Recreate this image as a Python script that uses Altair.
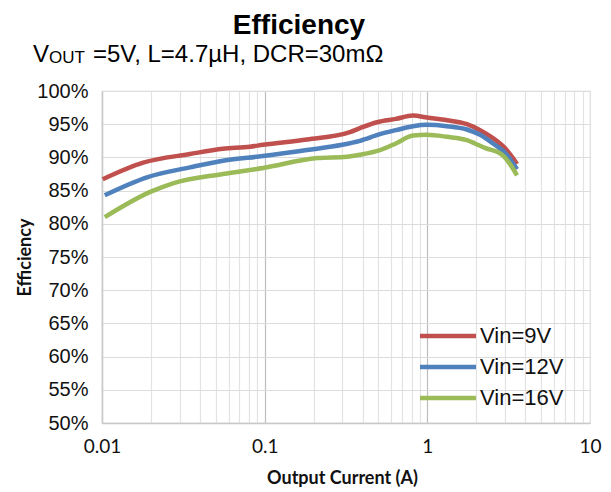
import altair as alt
import pandas as pd

title_text = "Efficiency"
sub_v = "V"
sub_out = "OUT"
sub_rest = "=5V, L=4.7µH, DCR=30mΩ"
x_title = "Output Current (A)"
y_title = "Efficiency"

series_names = ["Vin=9V", "Vin=12V", "Vin=16V"]
series_colors = ["#C0504D", "#4F81BD", "#9BBB59"]

cur_9 = [0.0101, 0.0179, 0.0347, 0.0554, 0.0811, 0.0977, 0.182, 0.334, 0.385, 0.49, 0.64, 0.816, 0.995, 1.32, 1.75, 2.11, 2.53, 3.08, 3.36, 3.56]
eff_9 = [86.7, 89.2, 90.5, 91.3, 91.6, 91.9, 92.7, 93.8, 94.4, 95.3, 95.8, 96.3, 96.0, 95.6, 95.0, 94.1, 92.9, 91.1, 89.9, 89.0]

cur_12 = [0.0104, 0.0189, 0.0347, 0.0554, 0.0977, 0.182, 0.30, 0.385, 0.512, 0.64, 0.816, 0.995, 1.32, 1.75, 2.11, 2.53, 3.08, 3.36, 3.56]
eff_12 = [84.3, 87.0, 88.5, 89.5, 90.2, 91.1, 91.9, 92.5, 93.5, 94.1, 94.7, 94.9, 94.7, 94.2, 93.4, 92.1, 90.4, 89.1, 88.2]

cur_16 = [0.0104, 0.0198, 0.0273, 0.0554, 0.0977, 0.21, 0.32, 0.385, 0.512, 0.64, 0.816, 0.995, 1.32, 1.75, 1.96, 2.28, 2.88, 3.2, 3.56]
eff_16 = [81.0, 84.8, 86.1, 87.5, 88.4, 89.9, 90.1, 90.4, 91.1, 92.1, 93.3, 93.4, 93.1, 92.6, 92.1, 91.4, 90.4, 89.1, 87.3]

x_ticks = [0.01, 0.02, 0.03, 0.04, 0.05, 0.06, 0.07, 0.08, 0.09,
           0.1, 0.2, 0.3, 0.4, 0.5, 0.6, 0.7, 0.8, 0.9,
           1, 2, 3, 4, 5, 6, 7, 8, 9, 10]
y_ticks = [50, 55, 60, 65, 70, 75, 80, 85, 90, 95, 100]

rows = []
for name, cs, es in zip(series_names, [cur_9, cur_12, cur_16], [eff_9, eff_12, eff_16]):
    for c, e in zip(cs, es):
        rows.append({"current": c, "eff": e, "series": name})
df = pd.DataFrame(rows)

lines = alt.Chart(df).mark_line(strokeWidth=4.5, interpolate="monotone").encode(
    x=alt.X("current:Q",
            scale=alt.Scale(type="log", domain=[0.01, 10]),
            axis=alt.Axis(
                values=x_ticks,
                labelExpr="datum.value==0.01?'0.01':datum.value==0.1?'0.1':datum.value==1?'1':datum.value==10?'10':''",
                grid=True,
                gridColor={"condition": {"test": "datum.value==0.1 || datum.value==1", "value": "#BDBDBD"}, "value": "#E3E3E3"},
                gridWidth=1.2,
                ticks=False, tickSize=0,
                domainColor="#C8C8C8", domainWidth=1.5,
                labelFont="Lato", labelFontSize=19, labelColor="#111111",
                labelPadding=14, labelFlush=False, labelOverlap=False,
                title=x_title, titleFont="Lato", titleFontSize=18, titleFontWeight="bold",
                titleColor="#111111", titleX=240, titleY=55, titleAlign="center", titleBaseline="middle",
            )),
    y=alt.Y("eff:Q",
            scale=alt.Scale(domain=[50, 100], zero=False, nice=False),
            axis=alt.Axis(
                values=y_ticks,
                labelExpr="datum.value + '%'",
                grid=True, gridColor="#DCDCDC", gridWidth=1.2,
                ticks=False, tickSize=0,
                domainColor="#C8C8C8", domainWidth=1.5,
                labelFont="Liberation Sans", labelFontSize=20, labelColor="#111111",
                labelPadding=14,
                title=y_title, titleFont="Lato", titleFontSize=18, titleFontWeight="bold",
                titleColor="#111111", titleX=-77, titleY=166, titleAngle=270,
                titleAlign="center", titleBaseline="middle",
            )),
    color=alt.Color("series:N",
                    scale=alt.Scale(domain=series_names, range=series_colors),
                    sort=series_names,
                    legend=alt.Legend(
                        title=None, orient="none", legendX=335, legendY=234,
                        symbolType="M-3.5,0H3.5", symbolSize=256, symbolStrokeWidth=4.5,
                        symbolFillColor="transparent",
                        labelFont="Liberation Sans", labelFontSize=22, labelColor="#111111",
                        labelOffset=21, rowPadding=9, padding=0,
                    )),
    order=alt.value(0),
)

hdr = pd.DataFrame({"t": [title_text]})
t1 = alt.Chart(hdr).mark_text(text=title_text, font="Liberation Sans", fontSize=28, fontWeight="bold",
                              align="center", baseline="alphabetic", color="#000000").encode(
    x=alt.value(197), y=alt.value(-57))
t2 = alt.Chart(hdr).mark_text(text=sub_v, font="Liberation Sans", fontSize=24,
                              align="left", baseline="alphabetic", color="#000000").encode(
    x=alt.value(-69), y=alt.value(-29))
t3 = alt.Chart(hdr).mark_text(text=sub_out, font="Liberation Sans", fontSize=17,
                              align="left", baseline="alphabetic", color="#000000").encode(
    x=alt.value(-53), y=alt.value(-28))
t4 = alt.Chart(hdr).mark_text(text=sub_rest, font="Liberation Sans", fontSize=24,
                              align="left", baseline="alphabetic", color="#000000").encode(
    x=alt.value(-9), y=alt.value(-29))

chart = alt.layer(lines, t1, t2, t3, t4).properties(
    width=488, height=332,
    padding={"left": 94, "top": 83, "right": 13, "bottom": 69},
    autosize=alt.AutoSizeParams(type="none"),
    background="white",
).configure_view(stroke="#D9D9D9", strokeWidth=1.2)

chart.save("out.html", embed_options={"renderer": "svg", "actions": False})
